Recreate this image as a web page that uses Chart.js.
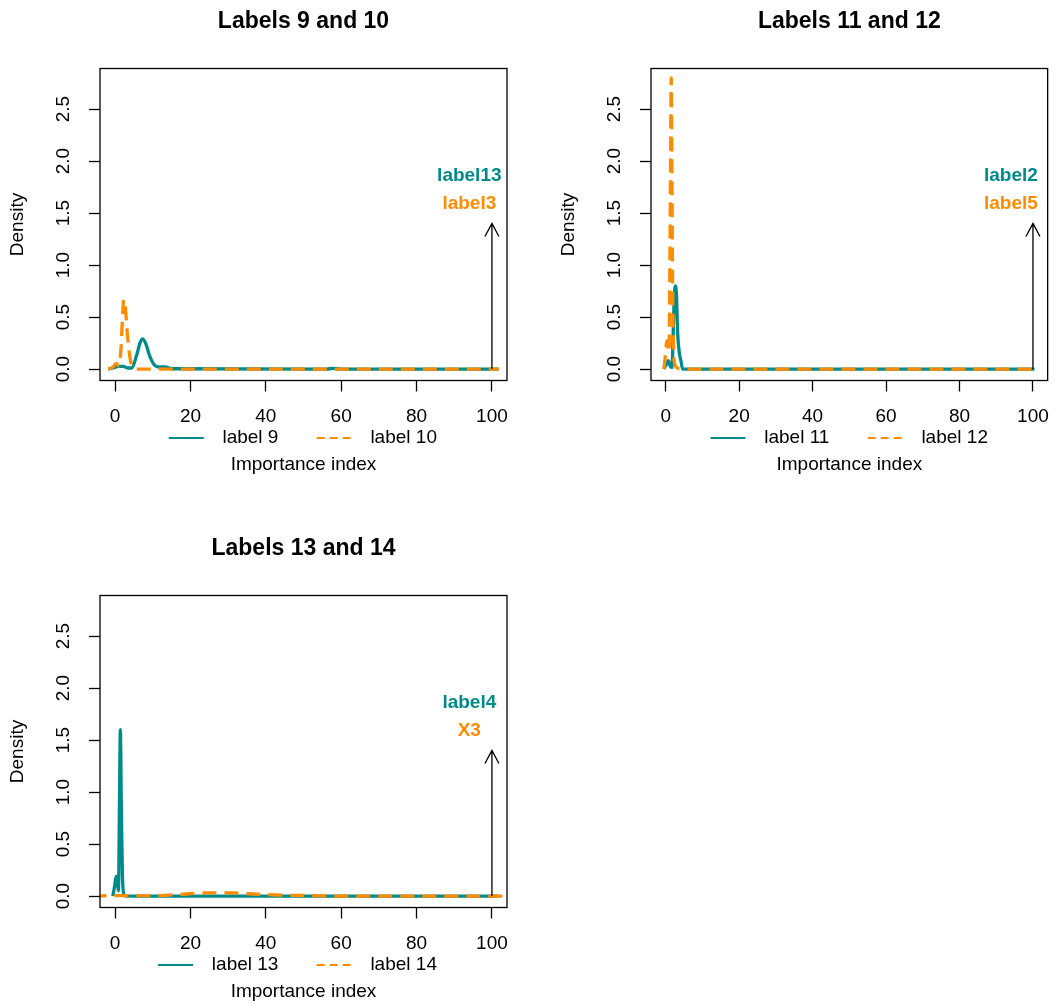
<!DOCTYPE html>
<html>
<head>
<meta charset="utf-8">
<script src="https://cdn.jsdelivr.net/npm/chart.js@4"></script>
<style>
	body { margin: 0; background: #fff; }
	#wrap { position: relative; width: 1063px; height: 1005px; }
	canvas { position: absolute; }
</style>
</head>
<body>
<div id="wrap">
	<canvas id="c1" width="531" height="502" style="left:0;top:0"></canvas>
	<canvas id="c2" width="512" height="502" style="left:551px;top:0"></canvas>
	<canvas id="c3" width="531" height="478" style="left:0;top:527px"></canvas>
</div>
<script>
// Colours
const teal = '#008B8B';
const orange = '#FF8C00';
const FONT = '"Liberation Sans", Arial, Helvetica, sans-serif';

// Axis ticks
const xTicks = [0, 20, 40, 60, 80, 100];
const yTicks = [0, 0.5, 1, 1.5, 2, 2.5];
const yTickLabels = ['0.0', '0.5', '1.0', '1.5', '2.0', '2.5'];

// Panel 1: label 9 / label 10
const x9 = [-1.8, -0.5, 0.9, 2.2, 3.5, 4.4, 5.7, 6.6, 7.3, 8.2, 9.1, 10.2, 11.5, 13.3, 15, 56, 58, 60, 101.8];
const y9 = [0, 0.01, 0.026, 0.025, 0.01, 0.01, 0.13, 0.25, 0.29, 0.24, 0.135, 0.05, 0.02, 0.02, 0.003, 0, 0.006, 0, 0];
const x10 = [-1.8, -0.5, 0.3, 1.0, 1.5, 1.95, 2.3, 2.75, 3.3, 4.0, 4.9, 5.7, 101.8];
const y10 = [0, 0.02, 0.055, 0.03, 0.16, 0.48, 0.67, 0.58, 0.32, 0.1, 0.01, 0, 0];

// Panel 2: label 11 / label 12
const x11 = [-0.5, 0.2, 0.7, 1.2, 1.7, 2.2, 2.55, 2.9, 3.25, 3.7, 4.15, 4.6, 100.4];
const y11 = [0, 0.05, 0.08, 0.03, 0.015, 0.545, 0.8, 0.74, 0.35, 0.16, 0.08, 0, 0];
const x12 = [-0.5, 0, 0.27, 0.53, 0.9, 1.15, 1.33, 1.5, 1.68, 1.86, 2.12, 2.47, 3.0, 4.4, 100.4];
const y12 = [0, 0.16, 0.27, 0.22, 0.16, 1.06, 2.02, 2.8, 2.02, 0.9, 0.22, 0.05, 0.015, 0, 0];

// Panel 3: label 13 / label 14
const x13 = [-0.6, -0.1, 0.27, 0.6, 0.9, 1.15, 1.4, 1.67, 1.95, 2.4, 3.0, 101.8];
const y13 = [0, 0.1, 0.19, 0.13, 0.05, 0.84, 1.6, 0.84, 0.2, 0.01, 0, 0];
const x14 = [-6, 2, 10, 17.2, 23.4, 30.5, 36.7, 42.9, 50.7, 60, 106];
const y14 = [0, 0.005, 0.004, 0.016, 0.03, 0.03, 0.02, 0.01, 0.005, 0, 0];

// Arrow and annotation positions (data units)
const arrowX = 100;
const arrowTop = 1.4;
const noteX = 94;
const noteY = [1.856, 1.59];

const titles = ['Labels 9 and 10', 'Labels 11 and 12', 'Labels 13 and 14'];
const legendNames = [['label 9', 'label 10'], ['label 11', 'label 12'], ['label 13', 'label 14']];
const notes = [['label13', 'label3'], ['label2', 'label5'], ['label4', 'X3']];

Chart.defaults.font.family = FONT;
Chart.defaults.color = '#000';

// Draws the R style frame, title, legend, axis titles and annotations
const decor = {
	id: 'decor',
	afterDraw(chart, args, opts) {
		const { ctx, chartArea: a, scales: { x, y } } = chart;
		const cx = (a.left + a.right) / 2;
		ctx.save();
		ctx.strokeStyle = '#000';
		ctx.lineWidth = 1.3;
		ctx.strokeRect(a.left, a.top, a.right - a.left, a.bottom - a.top);

		ctx.fillStyle = '#000';
		ctx.textAlign = 'center';
		ctx.textBaseline = 'middle';
		ctx.font = 'bold 23px ' + FONT;
		ctx.fillText(opts.title, cx, a.top - 46.8);

		ctx.font = '19px ' + FONT;
		ctx.fillText('Importance index', cx, a.bottom + 84);
		ctx.save();
		ctx.translate(18, (a.top + a.bottom) / 2);
		ctx.rotate(-Math.PI / 2);
		ctx.fillText('Density', 0, 0);
		ctx.restore();

		// legend
		const ly = a.bottom + 57.5;
		const start2 = a.left + 216.7;
		const start1 = start2 - 92 - ctx.measureText(opts.names[0]).width;
		ctx.textAlign = 'left';
		ctx.lineWidth = 2;
		ctx.strokeStyle = teal;
		ctx.beginPath(); ctx.moveTo(start1, ly); ctx.lineTo(start1 + 35, ly); ctx.stroke();
		ctx.fillText(opts.names[0], start1 + 53.7, ly);
		ctx.strokeStyle = orange;
		ctx.setLineDash([8, 5]);
		ctx.beginPath(); ctx.moveTo(start2, ly); ctx.lineTo(start2 + 35, ly); ctx.stroke();
		ctx.setLineDash([]);
		ctx.fillText(opts.names[1], start2 + 53.7, ly);

		// arrow
		const ax = x.getPixelForValue(arrowX);
		const ay0 = y.getPixelForValue(0);
		const ay1 = y.getPixelForValue(arrowTop);
		ctx.strokeStyle = '#000';
		ctx.lineWidth = 1.3;
		ctx.beginPath();
		ctx.moveTo(ax, ay0); ctx.lineTo(ax, ay1);
		ctx.moveTo(ax - 7, ay1 + 13); ctx.lineTo(ax, ay1); ctx.lineTo(ax + 7, ay1 + 13);
		ctx.stroke();

		// annotations
		ctx.textAlign = 'center';
		ctx.font = 'bold 19px ' + FONT;
		ctx.fillStyle = teal;
		ctx.fillText(opts.notes[0], x.getPixelForValue(noteX), y.getPixelForValue(noteY[0]));
		ctx.fillStyle = orange;
		ctx.fillText(opts.notes[1], x.getPixelForValue(noteX), y.getPixelForValue(noteY[1]));
		ctx.restore();
	}
};

function points(xs, ys) {
	return xs.map((v, i) => ({ x: v, y: ys[i] }));
}

function makePanel(id, idx, tealX, tealY, orangeX, orangeY) {
	const canvas = document.getElementById(id);
	return new Chart(canvas, {
		type: 'line',
		data: {
			datasets: [{
				label: legendNames[idx][0],
				data: points(tealX, tealY),
				borderColor: teal,
				borderWidth: 3.3,
				clip: 0,
				order: 1
			}, {
				label: legendNames[idx][1],
				data: points(orangeX, orangeY),
				borderColor: orange,
				borderWidth: 3.3,
				borderDash: [14, 8],
				borderCapStyle: 'butt',
				clip: 0,
				order: 0
			}]
		},
		options: {
			responsive: false,
			animation: false,
			layout: { padding: { top: 68.5, right: canvas.width - 507, left: 0, bottom: 0 } },
			elements: {
				point: { radius: 0 },
				line: { cubicInterpolationMode: 'monotone', fill: false }
			},
			plugins: {
				legend: { display: false },
				tooltip: { enabled: false },
				decor: { title: titles[idx], names: legendNames[idx], notes: notes[idx] }
			},
			scales: {
				x: {
					type: 'linear',
					min: -4,
					max: 104,
					afterBuildTicks: s => { s.ticks = xTicks.map(v => ({ value: v })); },
					afterFit: s => { s.height = canvas.height - 380.5; },
					border: { display: false },
					grid: { drawOnChartArea: false, tickLength: 11, tickColor: '#000', tickWidth: 1.3 },
					ticks: { font: { size: 19 }, padding: 14, minRotation: 0, maxRotation: 0, autoSkip: false }
				},
				y: {
					type: 'linear',
					min: -0.11,
					max: 2.89,
					afterBuildTicks: s => { s.ticks = yTicks.map(v => ({ value: v })); },
					afterFit: s => { s.width = 100; },
					border: { display: false },
					grid: { drawOnChartArea: false, tickLength: 11, tickColor: '#000', tickWidth: 1.3 },
					ticks: {
						font: { size: 19 },
						padding: 12.5,
						minRotation: 90,
						maxRotation: 90,
						crossAlign: 'center',
						autoSkip: false,
						callback: (v) => yTickLabels[yTicks.indexOf(v)]
					}
				}
			}
		},
		plugins: [decor]
	});
}

makePanel('c1', 0, x9, y9, x10, y10);
makePanel('c2', 1, x11, y11, x12, y12);
makePanel('c3', 2, x13, y13, x14, y14);
</script>
</body>
</html>
